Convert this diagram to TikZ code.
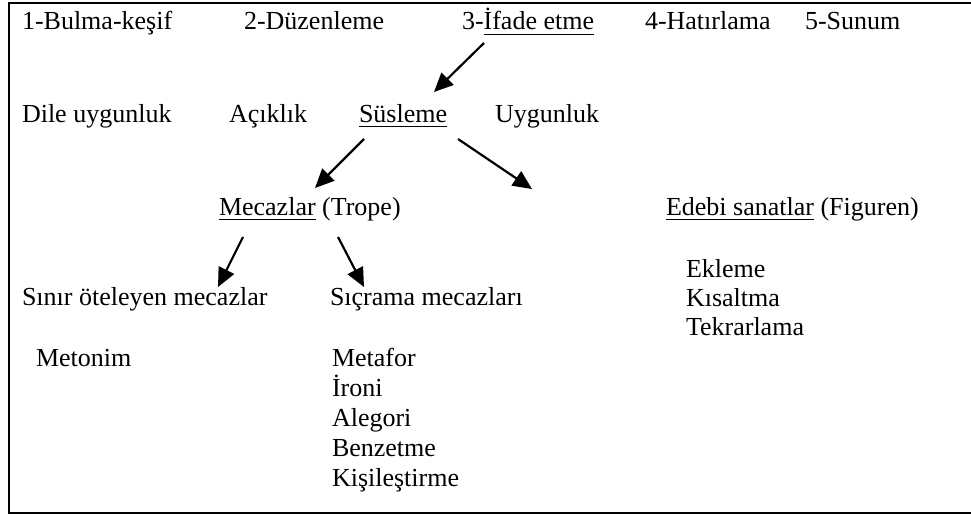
\documentclass[tikz,border=0pt]{standalone}
\usepackage{fontspec}
\setmainfont{Liberation Serif}
\usetikzlibrary{arrows.meta}
\tikzset{
  txt/.style={inner sep=0pt, outer sep=0pt, anchor=base west, font=\fontsize{26}{30}\selectfont},
  arr/.style={line width=2.2pt, -{Triangle[length=19pt,width=17pt]}},
  uline/.style={line width=1.7pt},
  frame/.style={line width=2pt}
}
\begin{document}
\begin{tikzpicture}[x=1pt,y=-1pt]
\useasboundingbox (0,0) rectangle (971,516);
\draw[frame] (985,3) -- (9,3) -- (9,513) -- (985,513);
% row 1
\node[txt] (b1) at (22,30) {1-Bulma-keşif};
\node[txt] (b2) at (244,30) {2-Düzenleme};
\node[txt] (b3a) at (462,30) {3-};
\node[txt] (b3) at (b3a.base east) {İfade etme};
\node[txt] (b4) at (645,30) {4-Hatırlama};
\node[txt] (b5) at (805,30) {5-Sunum};
\draw[uline] ([yshift=-4.5pt]b3.base west) -- ([yshift=-4.5pt]b3.base east);
% row 2
\node[txt] (r1) at (22,122) {Dile uygunluk};
\node[txt] (r2) at (229,122) {Açıklık};
\node[txt] (r3) at (359,122) {Süsleme};
\node[txt] (r4) at (495,122) {Uygunluk};
\draw[uline] ([yshift=-4.5pt]r3.base west) -- ([yshift=-4.5pt]r3.base east);
% row 3
\node[txt] (m1) at (219,215) {Mecazlar};
\node[txt] (m2) at ([xshift=6.5pt]m1.base east) {(Trope)};
\draw[uline] ([yshift=-4.5pt]m1.base west) -- ([yshift=-4.5pt]m1.base east);
\node[txt] (e1) at (666,215) {Edebi sanatlar};
\node[txt] (e2) at ([xshift=6.5pt]e1.base east) {(Figuren)};
\draw[uline] ([yshift=-4.5pt]e1.base west) -- ([yshift=-4.5pt]e1.base east);
% Edebi list
\node[txt] (k1) at (686,277) {Ekleme};
\node[txt] (k2) at (686,306) {Kısaltma};
\node[txt] (k3) at (686,335) {Tekrarlama};
% row 4
\node[txt] (s1) at (22,305) {Sınır öteleyen mecazlar};
\node[txt] (s2) at (330,305) {Sıçrama mecazları};
\node[txt] (n1) at (36,366) {Metonim};
\node[txt] (n2) at (332,366) {Metafor};
\node[txt] (n3) at (332,396) {İroni};
\node[txt] (n4) at (332,426) {Alegori};
\node[txt] (n5) at (332,456) {Benzetme};
\node[txt] (n6) at (332,486) {Kişileştirme};
% arrow end points
\coordinate (a1s) at (484,43);
\coordinate (a1e) at (434,92);
\coordinate (a2s) at (364,139);
\coordinate (a2e) at (315,188);
\coordinate (a3s) at (458,139);
\coordinate (a3e) at (532,189);
\coordinate (a4s) at (243,237);
\coordinate (a4e) at (218,287);
\coordinate (a5s) at (338,237);
\coordinate (a5e) at (364,287);
\draw[arr] (a1s) -- (a1e);
\draw[arr] (a2s) -- (a2e);
\draw[arr] (a3s) -- (a3e);
\draw[arr] (a4s) -- (a4e);
\draw[arr] (a5s) -- (a5e);
\end{tikzpicture}
\end{document}
